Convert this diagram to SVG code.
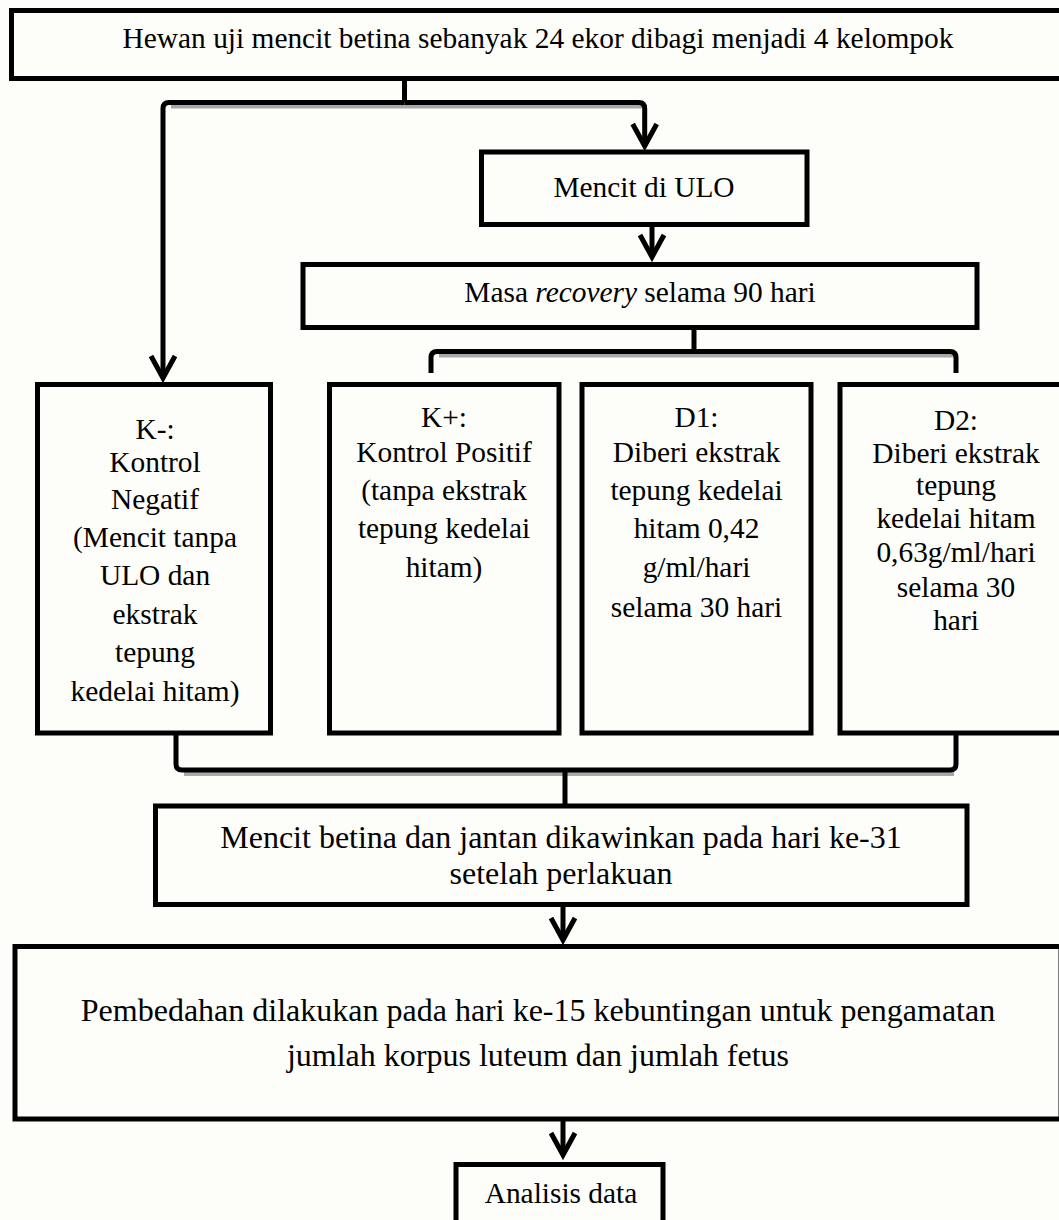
<svg xmlns="http://www.w3.org/2000/svg" width="1059" height="1220" viewBox="0 0 1059 1220">
  <style>
    .box { fill: #fdfdf9; stroke: #000; stroke-width: 5; }
    .t { font-family: "Liberation Serif", "Times New Roman", serif; font-size: 29.4px; fill: #000; text-anchor: middle; }
    .big { font-size: 32px; }
    .ln { fill: none; stroke: #000; stroke-width: 5; stroke-linejoin: round; }
    .sh { fill: none; stroke: #a8a8a8; stroke-width: 4; stroke-linejoin: round; }
  </style>
  <defs>
    <marker id="arr" markerUnits="userSpaceOnUse" markerWidth="60" markerHeight="60" viewBox="-40 -30 60 60" refX="0" refY="0" orient="auto" overflow="visible">
      <path d="M-22,-12 L0,0 L-22,12" fill="none" stroke="#000" stroke-width="5" stroke-linejoin="miter"/>
    </marker>
  </defs>
  <rect x="0" y="0" width="1059" height="1220" fill="#fdfdf9"/>

  <g id="connectors">
    <g id="shadows" transform="translate(2,4)">
      <path class="sh" d="M169,102.5 H640"/>
      <path class="sh" d="M437,351.5 H952"/>
      <path class="sh" d="M182,770 H952"/>
    </g>
    <path class="ln" d="M404.5,78.5 V102.5"/>
    <path class="ln" d="M404.5,102.5 H169 Q163,102.5 163,108.5 V378" marker-end="url(#arr)"/>
    <path class="ln" d="M404.5,102.5 H638.7 Q644.7,102.5 644.7,108.5 V146" marker-end="url(#arr)"/>
    <path class="ln" d="M652,224.5 V257" marker-end="url(#arr)"/>
    <path class="ln" d="M694,327.5 V351.5"/>
    <path class="ln" d="M694,351.5 H437 Q431,351.5 431,357.5 V373"/>
    <path class="ln" d="M694,351.5 H950 Q956,351.5 956,357.5 V373"/>
    <path class="ln" d="M176,733 V764 Q176,770 182,770 H950 Q956,770 956,764 V733"/>
    <path class="ln" d="M565,770 V806"/>
    <path class="ln" d="M563,904.5 V940" marker-end="url(#arr)"/>
    <path class="ln" d="M563,1119 V1155" marker-end="url(#arr)"/>
  </g>

  <g id="node-start">
    <rect class="box" x="11.5" y="10.5" width="1053" height="68"/>
    <text class="t" x="538" y="47.5">Hewan uji mencit betina sebanyak 24 ekor dibagi menjadi 4 kelompok</text>
  </g>

  <g id="node-ulo">
    <rect class="box" x="481.5" y="152" width="325.5" height="72.5"/>
    <text class="t" x="644" y="197">Mencit di ULO</text>
  </g>

  <g id="node-recovery">
    <rect class="box" x="303" y="264.5" width="674" height="63"/>
    <text class="t" x="640" y="302">Masa <tspan font-style="italic">recovery</tspan> selama 90 hari</text>
  </g>

  <g id="node-kneg">
    <rect class="box" x="37.5" y="384.5" width="233" height="348.5"/>
    <text class="t" x="155" y="439">K-:</text>
    <text class="t" x="155" y="472">Kontrol</text>
    <text class="t" x="155" y="509">Negatif</text>
    <text class="t" x="155" y="547">(Mencit tanpa</text>
    <text class="t" x="155" y="585">ULO dan</text>
    <text class="t" x="155" y="624">ekstrak</text>
    <text class="t" x="155" y="662">tepung</text>
    <text class="t" x="155" y="701">kedelai hitam)</text>
  </g>

  <g id="node-kpos">
    <rect class="box" x="329.5" y="384.5" width="229.5" height="348.5"/>
    <text class="t" x="444" y="427">K+:</text>
    <text class="t" x="444" y="462">Kontrol Positif</text>
    <text class="t" x="444" y="500">(tanpa ekstrak</text>
    <text class="t" x="444" y="538">tepung kedelai</text>
    <text class="t" x="444" y="577">hitam)</text>
  </g>

  <g id="node-d1">
    <rect class="box" x="582" y="384.5" width="229" height="348.5"/>
    <text class="t" x="696.5" y="427">D1:</text>
    <text class="t" x="696.5" y="462">Diberi ekstrak</text>
    <text class="t" x="696.5" y="500">tepung kedelai</text>
    <text class="t" x="696.5" y="538">hitam 0,42</text>
    <text class="t" x="696.5" y="577">g/ml/hari</text>
    <text class="t" x="696.5" y="617">selama 30 hari</text>
  </g>

  <g id="node-d2">
    <rect class="box" x="840" y="384.5" width="232" height="348.5"/>
    <text class="t" x="956" y="430">D2:</text>
    <text class="t" x="956" y="463">Diberi ekstrak</text>
    <text class="t" x="956" y="495">tepung</text>
    <text class="t" x="956" y="528">kedelai hitam</text>
    <text class="t" x="956" y="562">0,63g/ml/hari</text>
    <text class="t" x="956" y="597">selama 30</text>
    <text class="t" x="956" y="630">hari</text>
  </g>

  <g id="node-mating">
    <rect class="box" x="155.5" y="806" width="811.5" height="98.5"/>
    <text class="t big" x="561" y="848">Mencit betina dan jantan dikawinkan pada hari ke-31</text>
    <text class="t big" x="561" y="884">setelah perlakuan</text>
  </g>

  <g id="node-dissection">
    <rect class="box" x="15" y="946.5" width="1046" height="172.5"/>
    <text class="t big" x="538" y="1021">Pembedahan dilakukan pada hari ke-15 kebuntingan untuk pengamatan</text>
    <text class="t big" x="538" y="1066">jumlah korpus luteum dan jumlah fetus</text>
  </g>

  <g id="node-analysis">
    <rect class="box" x="456" y="1164.5" width="207" height="80"/>
    <text class="t" x="561" y="1203">Analisis data</text>
  </g>
</svg>
